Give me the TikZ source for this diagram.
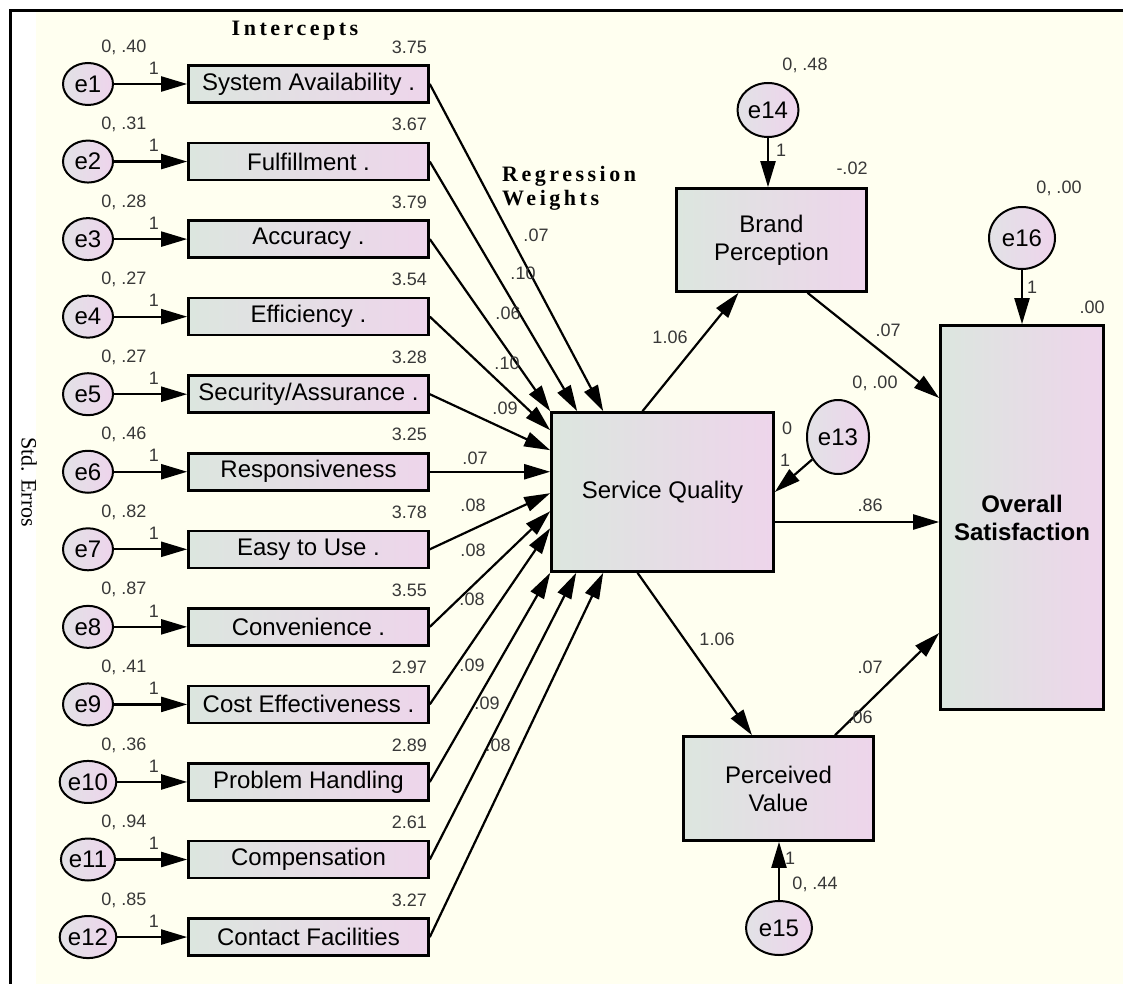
\documentclass[tikz,border=0pt]{standalone}
\usepackage{fontspec}
\setmainfont{Liberation Sans}
\newfontfamily\spacedserif[LetterSpace=16]{Liberation Serif}
\newfontfamily\plainserif{Liberation Serif}
\usetikzlibrary{arrows.meta,shapes.geometric,calc}
\definecolor{cream}{RGB}{255,255,240}
\definecolor{gcol}{RGB}{220,230,223}
\definecolor{pcol}{RGB}{238,213,235}
\definecolor{cgl}{RGB}{226,226,230}
\definecolor{cpk}{RGB}{238,212,236}
\tikzset{
  obs/.style={rectangle, draw=black, line width=2.6pt, left color=gcol, right color=pcol,
    inner sep=0pt, font=\fontsize{24}{28}\selectfont, align=center},
  ind/.style={obs, minimum width=240pt, minimum height=37pt},
  err/.style={ellipse, draw=black, line width=2pt, left color=cgl, right color=cpk,
    inner sep=0pt, minimum width=50pt, minimum height=42pt, font=\fontsize{24}{28}\selectfont},
  num/.style={font=\fontsize{18}{20}\selectfont, text=black!78, inner sep=0pt},
  arr/.style={-{Triangle[length=26pt,width=15pt]}, line width=2.2pt},
}
\begin{document}
\begin{tikzpicture}[x=1pt,y=-1pt]
\useasboundingbox (0,0) rectangle (1123,984);
\fill[white] (0,0) rectangle (1123,984);
\fill[cream] (36,12) rectangle (1123,984);
\draw[line width=2.5pt] (1123,10.5) -- (10.5,10.5) -- (10.5,984);

% titles
\node[font=\spacedserif\fontsize{22}{22}\selectfont\bfseries, inner sep=0pt] (tint) at (295,31) {Intercepts};
\node[font=\spacedserif\fontsize{22}{24}\selectfont\bfseries, inner sep=0pt, anchor=west, align=left] (treg) at (502,188) {Regression\\Weights};
\node[font=\plainserif\fontsize{22}{24}\selectfont, inner sep=0pt, rotate=-90] (tstd) at (29,482) {Std. Erros};

% central nodes
\node[obs, minimum width=222pt, minimum height=159pt] (sq) at (662.5,492) {Service Quality};
\node[obs, minimum width=190pt, minimum height=103pt] (bp) at (771.5,240) {Brand\\Perception};
\node[obs, minimum width=163pt, minimum height=384pt, font=\fontsize{24}{28}\selectfont\bfseries] (os) at (1022,517.5) {Overall\\Satisfaction};
\node[obs, minimum width=190pt, minimum height=104pt] (pv) at (778.5,788.5) {Perceived\\Value};

\node[err, minimum width=62pt, minimum height=74pt] (e13) at (838,437) {e13};
\node[err, minimum width=61pt, minimum height=54pt] (e14) at (768,110) {e14};
\node[err, minimum width=66pt, minimum height=62pt] (e16) at (1022,238) {e16};
\node[err, minimum width=66pt, minimum height=54pt] (e15) at (779,928) {e15};

% indicator rows
\foreach \i/\nm/\var/\ic in {
  1/{System Availability .}/{0, .40}/3.75,
  2/{Fulfillment .}/{0, .31}/3.67,
  3/{Accuracy .}/{0, .28}/3.79,
  4/{Efficiency .}/{0, .27}/3.54,
  5/{Security/Assurance .}/{0, .27}/3.28,
  6/{Responsiveness}/{0, .46}/3.25,
  7/{Easy to Use .}/{0, .82}/3.78,
  8/{Convenience .}/{0, .87}/3.55,
  9/{Cost Effectiveness .}/{0, .41}/2.97,
  10/{Problem Handling}/{0, .36}/2.89,
  11/{Compensation}/{0, .94}/2.61,
  12/{Contact Facilities}/{0, .85}/3.27}{
  \pgfmathsetmacro\yy{84+77.55*(\i-1)}
  \node[err] (e\i) at (88,\yy) {e\i};
  \node[ind] (b\i) at (308.5,\yy) {\nm};
  \draw[arr] (e\i) -- (b\i);
  \node[num] (v\i) at (124,\yy-37) {\var};
  \node[num, anchor=east] (ic\i) at (427,\yy-37) {\ic};
  \node[num] (one\i) at (154,\yy-16) {1};
}

% tips on Service Quality
\coordinate (t1) at ($(sq.north west)+(53,0)$);
\coordinate (t2) at ($(sq.north west)+(27,0)$);
\coordinate (t3) at (sq.north west);
\coordinate (t4) at ($(sq.north west)+(0,19)$);
\coordinate (t5) at ($(sq.north west)+(0,39)$);
\coordinate (t6) at (sq.west |- b6.east);
\coordinate (t7) at ($(sq.north west)+(0,82)$);
\coordinate (t8) at ($(sq.north west)+(0,100)$);
\coordinate (t9) at ($(sq.north west)+(0,117)$);
\coordinate (t10) at (sq.south west);
\coordinate (t11) at ($(sq.south west)+(26,0)$);
\coordinate (t12) at ($(sq.south west)+(53,0)$);
\foreach \i in {1,...,12}{\draw[arr] (b\i.east) -- (t\i);}

% regression weights labels
\node[num] (w1) at (536,235) {.07};
\node[num] (w2) at (523,273) {.10};
\node[num] (w3) at (508,313) {.06};
\node[num] (w4) at (507,363) {.10};
\node[num] (w5) at (505,408) {.09};
\node[num] (w6) at (475,458) {.07};
\node[num] (w7) at (473,505) {.08};
\node[num] (w8) at (473,550) {.08};
\node[num] (w9) at (472,599) {.08};
\node[num] (w10) at (472,665) {.09};
\node[num] (w11) at (487,703) {.09};
\node[num] (w12) at (498,745) {.08};

% structural paths
\coordinate (sqo) at (775,522);
\coordinate (sqbp) at ($(sq.north)+(-20,0)$);
\coordinate (bpin) at ($(bp.south)+(-33,0)$);
\coordinate (sqpv) at ($(sq.south)+(-25,0)$);
\coordinate (pvin) at ($(pv.north)+(-26.5,0)$);
\coordinate (bpout) at ($(bp.south)+(36,0)$);
\coordinate (osbp) at (os.west |- 0,398);
\coordinate (pvout) at ($(pv.north)+(56.5,0)$);
\coordinate (ospv) at (os.west |- 0,633);
\draw[arr] (sqbp) -- (bpin);
\draw[arr] (sqpv) -- (pvin);
\draw[arr] (sqo) -- (sqo -| os.west);
\draw[arr] (bpout) -- (osbp);
\draw[arr] (pvout) -- (ospv);
\draw[arr] (e13) -- (sq.east);
\draw[arr] (e14.south) -- (e14.south |- bp.north);
\draw[arr] (e16.south) -- (e16.south |- os.north);
\draw[arr] (e15.north) -- (e15.north |- pv.south);

% structural labels
\node[num] (l1) at (670,337) {1.06};
\node[num] (l2) at (717,639) {1.06};
\node[num] (l3) at (888,330) {.07};
\node[num] (l4) at (870,505) {.86};
\node[num] (l5) at (870,667) {.07};
\node[num] (l6) at (860,717) {.06};
\node[num] (l7) at (852,168) {-.02};
\node[num] (l8) at (805,65) {0, .48};
\node[num] (l9) at (1059,188) {0, .00};
\node[num] (l10) at (1032,287) {1};
\node[num] (l11) at (1092,307) {.00};
\node[num] (l12) at (875,383) {0, .00};
\node[num] (l13) at (787,428) {0};
\node[num] (l14) at (785,460) {1};
\node[num] (l15) at (781,150) {1};
\node[num] (l16) at (790,858) {1};
\node[num] (l17) at (815,884) {0, .44};
\end{tikzpicture}
\end{document}
